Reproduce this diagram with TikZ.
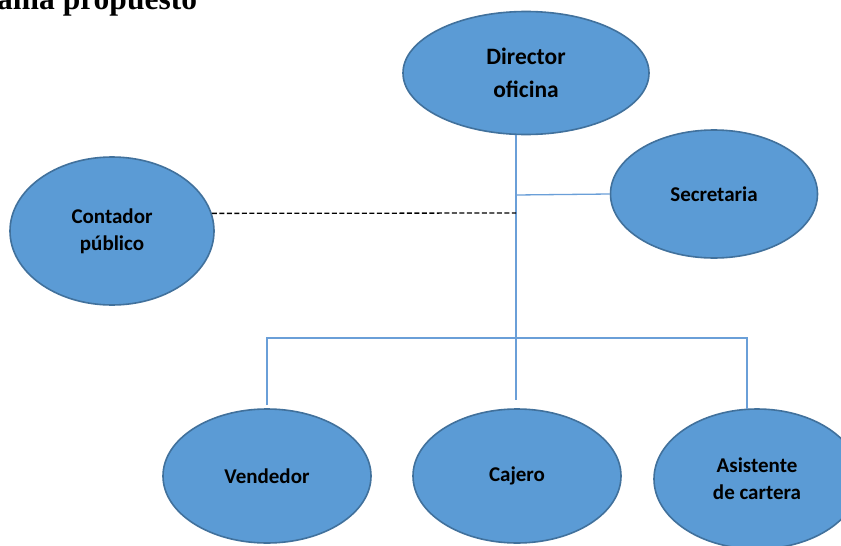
\documentclass[tikz,border=0pt]{standalone}
\usepackage{fontspec}
\setmainfont{Carlito}
\newfontfamily\titlefont{Liberation Serif}
\usetikzlibrary{shapes.geometric}
\definecolor{ellfill}{HTML}{5B9BD5}
\definecolor{elldraw}{HTML}{41719C}
\definecolor{connblue}{HTML}{6A9FD8}
\tikzset{
  role/.style={ellipse, draw=elldraw, fill=ellfill, line width=1.6pt, inner sep=0pt, align=center,
    font=\bfseries\fontsize{21}{27}\selectfont, text=black},
  conn/.style={draw=connblue, line width=1.3pt},
  dotconn/.style={draw=black, line width=1.3pt, dash pattern=on 5pt off 2.5pt}
}
\begin{document}
\begin{tikzpicture}[x=1pt,y=-1pt]
\useasboundingbox (0,0) rectangle (841,546);
\fill[white] (0,0) rectangle (841,546);
\node[anchor=base west, inner sep=0pt, font=\titlefont\bfseries\fontsize{31.5}{34}\selectfont] (title) at (-3,9.5) {ama propuesto};

\node[role, minimum width=246pt, minimum height=123pt, font=\bfseries\fontsize{23.5}{33}\selectfont] (dir) at (526,73) {Director\\oficina};
\node[role, minimum width=207pt, minimum height=128pt] (sec) at (714,194) {Secretaria};
\node[role, minimum width=204pt, minimum height=148pt] (cont) at (112,231) {Contador\\público};
\node[role, minimum width=208pt, minimum height=134pt] (vend) at (267,476) {Vendedor};
\node[role, minimum width=208pt, minimum height=134pt] (caj) at (517,476) {Cajero};
\node[role, minimum width=206pt, minimum height=140pt] (asis) at (757,479) {Asistente\\de cartera};

\coordinate (jc) at (516,400);
\coordinate (js) at (516,195);
\coordinate (jd) at (516,213);
\coordinate (hl) at (267,338);
\coordinate (hr) at (747,338);
\coordinate (vd) at (267,405);
\coordinate (ad) at (747,409);

\draw[conn] (dir.south -| jc) -- (jc);
\draw[conn] (js) -- (sec.west);
\draw[dotconn] (cont.10.3) -- (jd);
\draw[conn] (vd) -- (hl) -- (hr) -- (ad);
\end{tikzpicture}
\end{document}
